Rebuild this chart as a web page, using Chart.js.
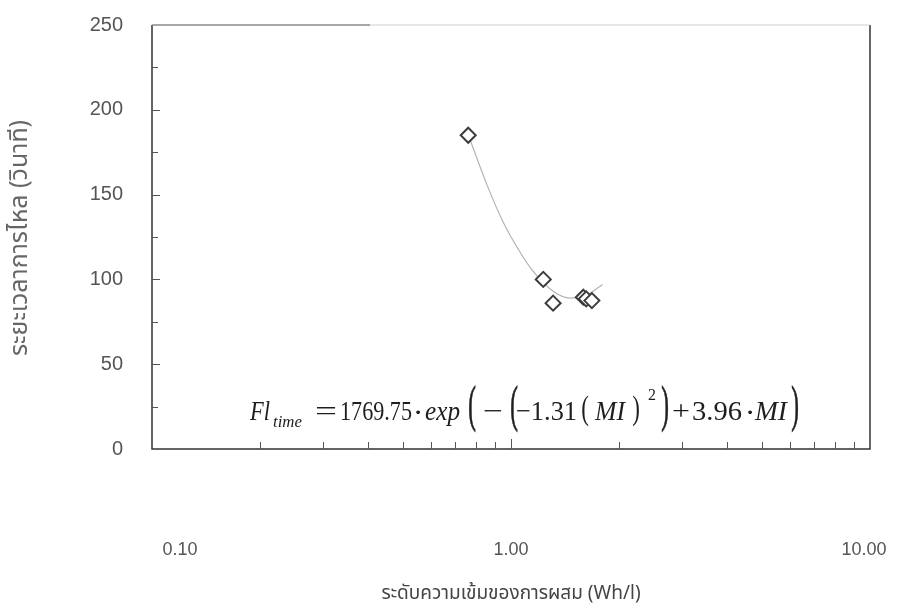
<!DOCTYPE html>
<html>
<head>
<meta charset="utf-8">
<script src="https://cdn.jsdelivr.net/npm/chart.js@4/dist/chart.umd.min.js"></script>
<style>
  html, body { margin: 0; background: #fff; }
  #wrap { width: 907px; height: 609px; }
</style>
</head>
<body>
<div id="wrap"><canvas id="flowChart"></canvas></div>
<script>
// measured points (mixing level vs flow time)
const mixLevel = [0.76, 1.23, 1.31, 1.59, 1.62, 1.68];
const flowTime = [185, 100, 86, 89.5, 88.5, 87.5];

// fitted curve
const fitMix = [0.77, 0.86, 0.95, 1.06, 1.15, 1.31, 1.46, 1.60, 1.80];
const fitTime = [182, 155, 134, 116, 105, 93, 89, 90, 97];

const xTickValues = [0.1, 1, 10];
const xTickLabels = ['0.10', '1.00', '10.00'];
const yMin = 0, yMax = 250, yStep = 50;

const xTitle = 'ระดับความเข้มของการผสม (Wh/l)';
const yTitle = 'ระยะเวลาการไหล (วินาที)';

const labelFont = '"Liberation Sans", Arial, sans-serif';
const thaiFont = '"Noto Sans Thai", "Loma", "Garuda", "Liberation Sans", sans-serif';
const serif = '"Liberation Serif", "Times New Roman", serif';

// equation pieces: text, style, left, right (or centre for brackets)
const eqParts = [
    ['Fl', 'i', 250, 270],
    ['time', 'sub', 273, 302],
    ['=', '', 315, 337],
    ['1769.75', '', 340, 412],
    ['\u00b7', 'dot', 418],
    ['exp', 'i', 425, 460],
    ['(', 'big', 472],
    ['\u2212', '', 483, 503],
    ['(', 'big', 514],
    ['\u22121.31', '', 516, 577],
    ['(', 'mid', 585],
    ['MI', 'i', 595, 625],
    [')', 'mid', 636],
    ['2', 'sup', 648, 656],
    [')', 'big', 665],
    ['+', '', 672, 690],
    ['3.96', '', 692, 742],
    ['\u00b7', 'dot', 750],
    ['MI', 'i', 755, 787],
    [')', 'big', 795]
];

function drawEquation(ctx) {
    const base = 420;
    ctx.fillStyle = '#1e1e1e';
    ctx.strokeStyle = '#1e1e1e';
    ctx.textBaseline = 'alphabetic';
    eqParts.forEach(([t, style, x0, x1]) => {
        ctx.save();
        if (style === 'big' || style === 'mid' || style === 'dot') {
            ctx.font = '23px ' + serif;
            ctx.textAlign = 'center';
            const sy = style === 'big' ? 2.2 : style === 'mid' ? 1.5 : 1.3;
            ctx.translate(x0, style === 'big' ? 421 : style === 'mid' ? 419 : base + 2);
            ctx.scale(style === 'dot' ? 1.4 : 1, sy);
            ctx.fillText(t, 0, 0);
            if (style === 'big') {
                ctx.lineWidth = 0.4;
                ctx.strokeText(t, 0, 0);
            }
        } else {
            const italic = (style === 'i' || style === 'sub') ? 'italic ' : '';
            const size = (style === 'sub' || style === 'sup') ? 14 : 23;
            ctx.font = italic + size + 'px ' + serif;
            ctx.textAlign = 'left';
            const w = ctx.measureText(t).width;
            const y = style === 'sub' ? 427 : style === 'sup' ? 400 : base;
            ctx.translate(x0, y);
            ctx.scale((x1 - x0) / w, 1.2);
            ctx.fillText(t, 0, 0);
        }
        ctx.restore();
    });
}

// frame, inward ticks, x labels, titles and the fit equation
const decorPlugin = {
    id: 'decor',
    afterDraw(chart) {
        const { ctx, chartArea: a, scales: { x, y } } = chart;
        ctx.save();

        // frame
        ctx.strokeStyle = '#333';
        ctx.lineWidth = 1.5;
        ctx.beginPath();
        ctx.moveTo(a.left, a.top);
        ctx.lineTo(a.left, a.bottom);
        ctx.lineTo(a.right, a.bottom);
        ctx.lineTo(a.right, a.top);
        ctx.stroke();
        ctx.strokeStyle = '#cfcfcf';
        ctx.lineWidth = 1;
        ctx.beginPath();
        ctx.moveTo(a.left, a.top);
        ctx.lineTo(a.right, a.top);
        ctx.stroke();
        ctx.strokeStyle = '#666';
        ctx.beginPath();
        ctx.moveTo(a.left, a.top);
        ctx.lineTo(a.left + 218, a.top);
        ctx.stroke();

        // y ticks, pointing in
        ctx.strokeStyle = '#555';
        ctx.lineWidth = 1;
        for (let v = yMin + yStep / 2; v < yMax; v += yStep / 2) {
            const py = Math.round(y.getPixelForValue(v)) + 0.5;
            ctx.beginPath();
            ctx.moveTo(a.left, py);
            ctx.lineTo(a.left + (v % yStep === 0 ? 8 : 6), py);
            ctx.stroke();
        }

        // x ticks (log minor), pointing up
        for (let d = 0; d < xTickValues.length - 1; d++) {
            const base = xTickValues[d];
            for (let k = 2; k <= 10; k++) {
                const px = Math.round(x.getPixelForValue(base * k)) + 0.5;
                if (px >= a.right - 1) continue;
                ctx.beginPath();
                ctx.moveTo(px, a.bottom);
                ctx.lineTo(px, a.bottom - (k === 10 ? 10 : 7));
                ctx.stroke();
            }
        }

        // x tick labels
        ctx.fillStyle = '#555';
        ctx.font = '18px ' + labelFont;
        ctx.textAlign = 'center';
        ctx.textBaseline = 'middle';
        const nudge = [28, 0, -6];
        xTickValues.forEach((v, i) => {
            ctx.fillText(xTickLabels[i], x.getPixelForValue(v) + nudge[i], 550);
        });

        // axis titles
        ctx.fillStyle = '#444';
        ctx.font = '19px ' + thaiFont;
        ctx.fillText(xTitle, (a.left + a.right) / 2, 595);
        ctx.save();
        ctx.translate(22, 238);
        ctx.rotate(-Math.PI / 2);
        ctx.fillStyle = '#666';
        ctx.font = '25px ' + thaiFont;
        ctx.fillText(yTitle, 0, 0);
        ctx.restore();

        drawEquation(ctx);
        ctx.restore();
    }
};

const ctx = document.getElementById('flowChart').getContext('2d');

new Chart(ctx, {
    type: 'scatter',
    data: {
        datasets: [
            {
                label: 'fit',
                data: fitMix.map((m, i) => ({ x: m, y: fitTime[i] })),
                showLine: true,
                borderColor: '#b4b4b4',
                borderWidth: 1.2,
                cubicInterpolationMode: 'monotone',
                pointRadius: 0,
                pointHoverRadius: 0,
                order: 2
            },
            {
                label: 'data',
                data: mixLevel.map((m, i) => ({ x: m, y: flowTime[i] })),
                pointStyle: 'rectRot',
                pointRadius: 7.5,
                pointBorderWidth: 2,
                pointBorderColor: '#3c3c3c',
                pointBackgroundColor: '#fff',
                order: 1
            }
        ]
    },
    options: {
        responsive: true,
        maintainAspectRatio: false,
        animation: false,
        layout: { padding: { top: 25, right: 37, left: 0, bottom: 0 } },
        plugins: {
            legend: { display: false },
            tooltip: { enabled: false }
        },
        scales: {
            x: {
                type: 'logarithmic',
                min: 0.1,
                max: 10,
                grid: { display: false, drawTicks: false },
                border: { display: false },
                ticks: { display: false },
                afterFit: (s) => { s.height = 160; s.paddingLeft = 0; s.paddingRight = 0; }
            },
            y: {
                min: yMin,
                max: yMax,
                grid: { display: false, drawTicks: false },
                border: { display: false },
                ticks: {
                    stepSize: yStep,
                    padding: 29,
                    color: '#555',
                    font: { family: labelFont, size: 20 }
                },
                afterFit: (s) => { s.width = 152; s.paddingTop = 0; s.paddingBottom = 0; }
            }
        }
    },
    plugins: [decorPlugin]
});
</script>
</body>
</html>
